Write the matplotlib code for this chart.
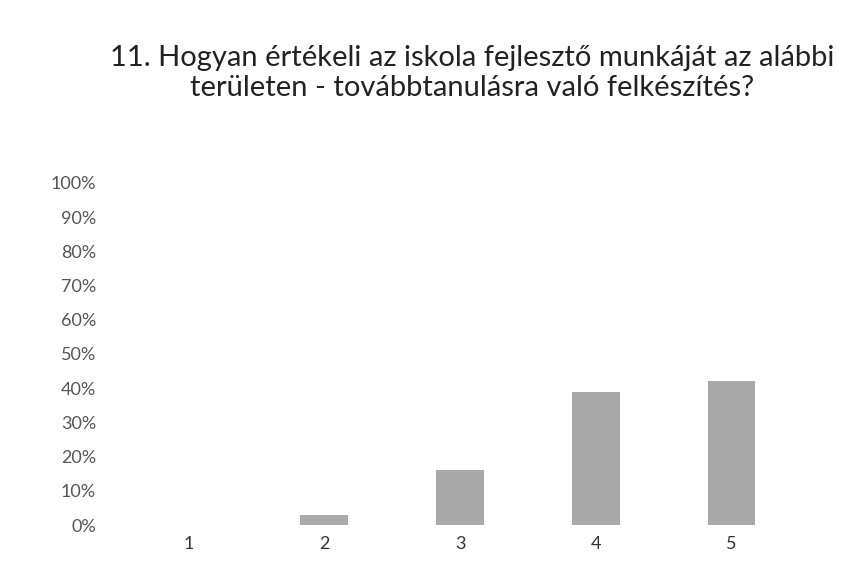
import matplotlib.pyplot as plt
from matplotlib.ticker import PercentFormatter

categories = ['1', '2', '3', '4', '5']
values = [0, 3, 16, 39, 42]
yticks = [0, 10, 20, 30, 40, 50, 60, 70, 80, 90, 100]

plt.rcParams['font.family'] = ['Lato', 'DejaVu Sans']

fig = plt.figure(figsize=(8.47, 5.64), dpi=100)
ax = fig.add_axes([135 / 847, 1 - 525 / 564, 650 / 847, 342 / 564])

ax.bar(categories, values, width=0.35, color='#a9a9a9')
ax.set_ylim(0, 100)
ax.set_yticks(yticks)
ax.yaxis.set_major_formatter(PercentFormatter(decimals=0))
ax.tick_params(axis='y', length=0, pad=28, labelsize=13, labelcolor='#555555')
ax.tick_params(axis='x', length=0, pad=8, labelsize=13, labelcolor='#333333')
for s in ax.spines.values():
    s.set_visible(False)

fig.text(0.557, 0.87,
         '11. Hogyan értékeli az iskola fejlesztő munkáját az alábbi\nterületen - továbbtanulásra való felkészítés?',
         ha='center', va='center', fontsize=21, color='#222222', linespacing=1.2)

fig.savefig('out.png', dpi=100)
